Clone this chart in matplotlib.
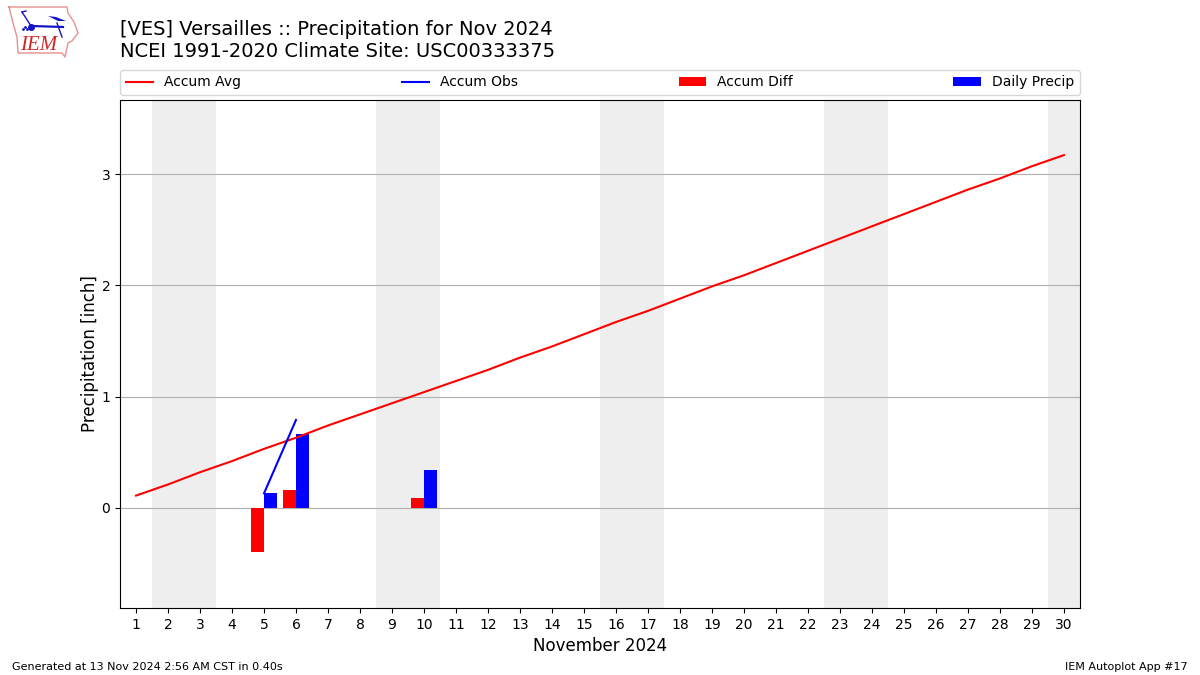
import numpy as np
import matplotlib
matplotlib.use("Agg")
import matplotlib.pyplot as plt

DAYS = list(range(1, 31))
ACCUM_AVG = [0.11, 0.21, 0.32, 0.42, 0.53, 0.63, 0.74, 0.84, 0.94, 1.04,
             1.14, 1.24, 1.35, 1.45, 1.56, 1.67, 1.77, 1.88, 1.99, 2.09,
             2.20, 2.31, 2.42, 2.53, 2.64, 2.75, 2.86, 2.96, 3.07, 3.17]
OBS_DAYS = [5, 6]
ACCUM_OBS = [0.13, 0.79]
BAR_DAYS = [5, 6, 10]
ACCUM_DIFF = [-0.40, 0.16, 0.09]
DAILY_PRECIP = [0.13, 0.66, 0.34]
WEEKENDS = [(1.5, 3.5), (8.5, 10.5), (15.5, 17.5), (22.5, 24.5), (29.5, 30.5)]
YTICKS = [0, 1, 2, 3]

W, H = 1200, 675


def px_axes(fig, left, top, right, bottom):
    """Add an axes from pixel edges, measured from the top left."""
    return fig.add_axes([left / W, 1 - bottom / H, (right - left) / W, (bottom - top) / H])


def draw_logo(fig):
    # rough IEM logo: state outline, station model and letters
    lax = px_axes(fig, 0, 0, 100, 60)
    lax.set_xlim(0, 100)
    lax.set_ylim(60, 0)
    lax.axis("off")
    outline_x = [9, 67, 68, 74, 78, 72, 68, 65, 62, 18, 17, 13, 9]
    outline_y = [7, 7, 13, 22, 33, 41, 43, 57, 53, 53, 37, 23, 7]
    lax.plot(outline_x, outline_y, color="#e89090", lw=1)
    lax.plot([32, 63], [26, 27], color="#1414c8", lw=1.6)
    lax.plot([22, 31], [12, 26], color="#1414c8", lw=1)
    lax.plot([22, 26], [12, 11], color="#1414c8", lw=1)
    lax.plot([57, 62], [23, 37], color="#1414c8", lw=1)
    lax.fill([48, 58, 66, 56], [16, 21, 21, 17], color="#1414c8", lw=0)
    lax.plot([31], [27], "o", color="#1414c8", ms=4)
    lax.plot([23, 25, 27], [29, 27, 29], ".", color="#1414c8", ms=2)
    lax.text(20, 45, "IEM", color="#d22828", fontsize=15, family="Liberation Serif",
             style="italic", va="center")


fig = plt.figure(figsize=(12, 6.75), dpi=100)
ax = px_axes(fig, 120, 100, 1080, 608)

for start, end in WEEKENDS:
    ax.axvspan(start, end, color="#eeeeee", lw=0, zorder=0)

ax.plot(DAYS, ACCUM_AVG, color="red", lw=1.5, label="Accum Avg", zorder=3)
ax.plot(OBS_DAYS, ACCUM_OBS, color="blue", lw=1.5, label="Accum Obs", zorder=3)
ax.bar(BAR_DAYS, ACCUM_DIFF, width=-0.4, align="edge", color="red", label="Accum Diff", zorder=2)
ax.bar(BAR_DAYS, DAILY_PRECIP, width=0.4, align="edge", color="blue", label="Daily Precip", zorder=2)

ax.set_xlim(0.5, 30.5)
ax.set_ylim(-0.9, 3.665)
ax.set_xticks(DAYS)
ax.set_yticks(YTICKS)
ax.grid(axis="y", zorder=1)
ax.set_axisbelow(True)
ax.set_xlabel("November 2024", fontsize=12)
ax.set_ylabel("Precipitation [inch]", fontsize=12, labelpad=2)

ax.legend(loc="lower left", bbox_to_anchor=(0, 1.01, 1, 0.1), mode="expand",
          ncol=4, fontsize=10, borderaxespad=0)

fig.text(120 / W, 1 - 29.5 / H, "[VES] Versailles :: Precipitation for Nov 2024",
         fontsize=14, va="center")
fig.text(120 / W, 1 - 51.5 / H, "NCEI 1991-2020 Climate Site: USC00333375",
         fontsize=14, va="center")
fig.text(12 / W, 1 - 667 / H, "Generated at 13 Nov 2024 2:56 AM CST in 0.40s",
         fontsize=8, va="center")
fig.text(1188 / W, 1 - 667 / H, "IEM Autoplot App #17", fontsize=8, va="center", ha="right")

draw_logo(fig)

fig.savefig("out.png", dpi=100)
